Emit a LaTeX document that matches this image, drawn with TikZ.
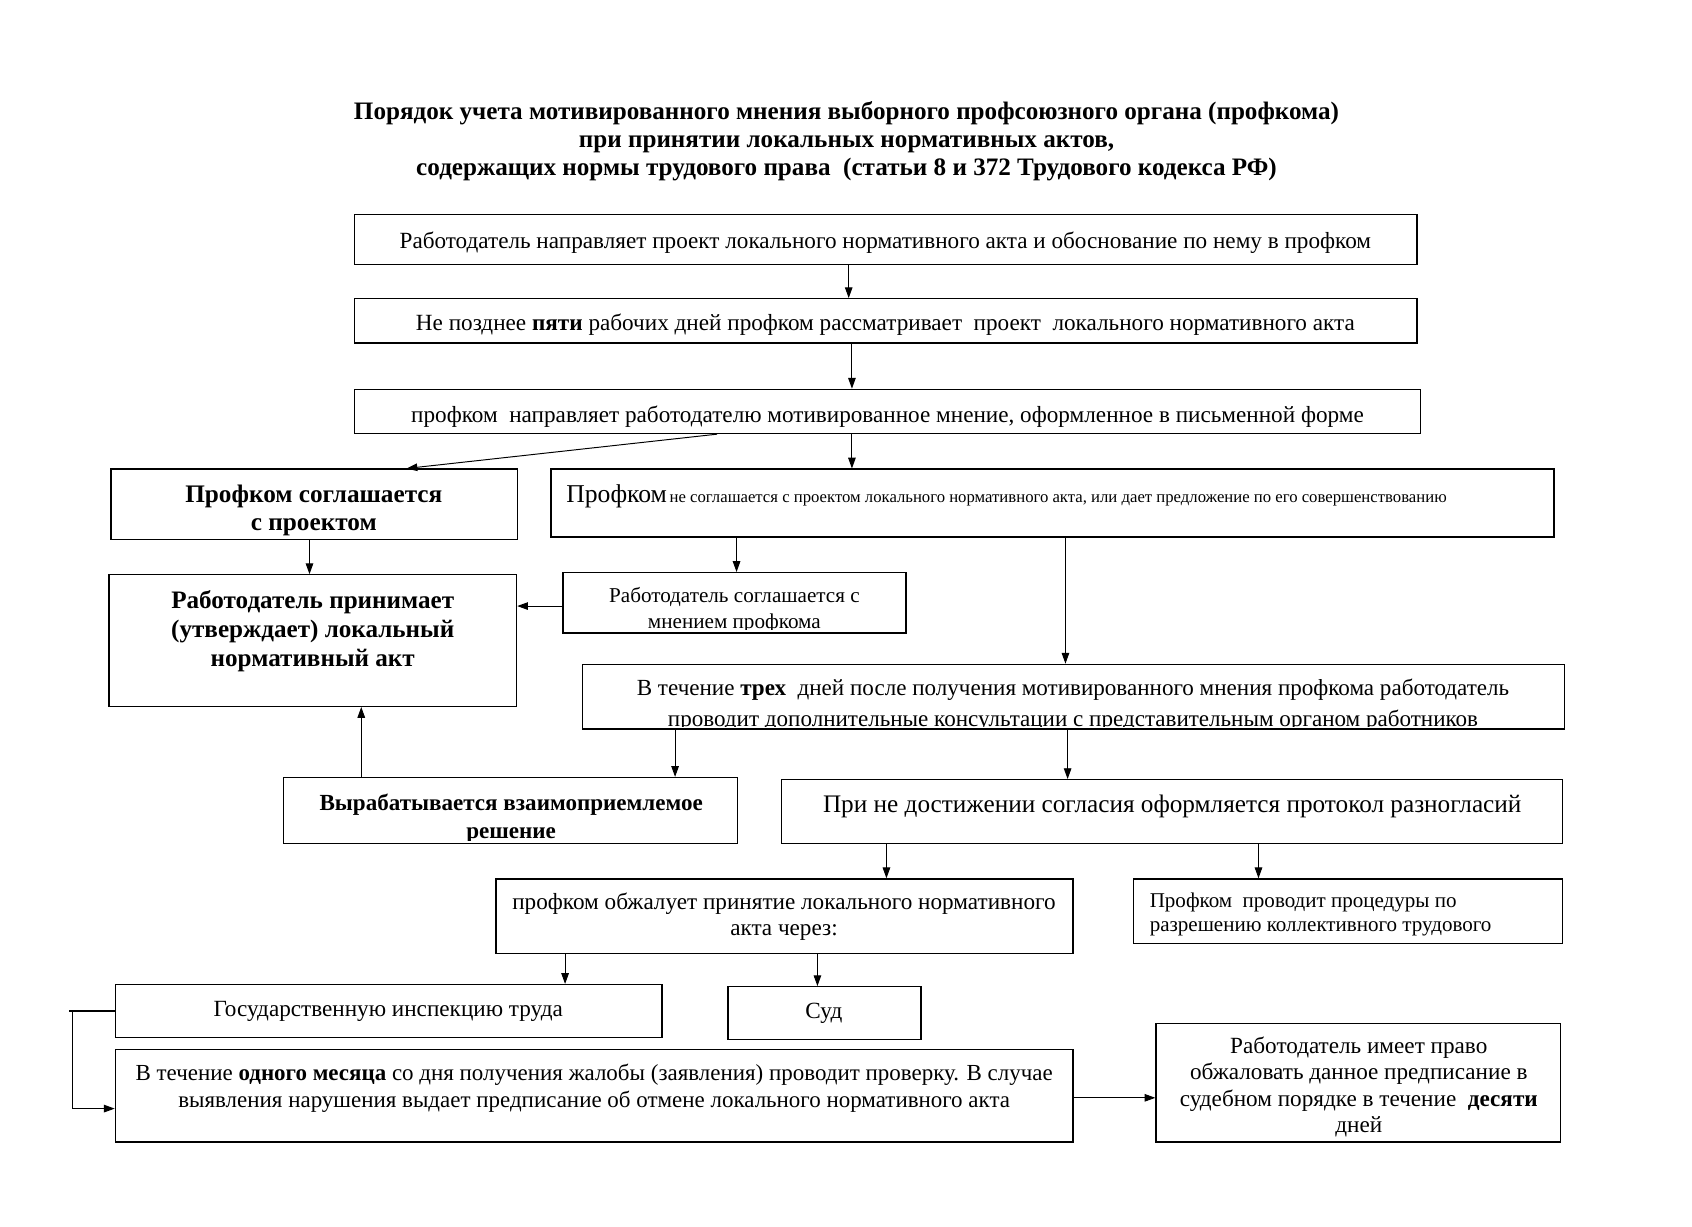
\documentclass[tikz,border=0pt]{standalone}
\usepackage{fontspec}
\setmainfont{Liberation Serif}
\usetikzlibrary{arrows.meta,fit}
\tikzset{
  box/.style={draw, line width=1.2pt, inner sep=0pt, rectangle},
  txt/.style={inner sep=0pt, align=center, yshift=-3pt},
  arr/.style={line width=0.9pt, -{Triangle[length=10pt,width=7pt]}},
  fA/.style={font=\fontsize{21.5}{27}\selectfont},
}
\begin{document}
\begin{tikzpicture}[x=1pt,y=-1pt]
\useasboundingbox (0,0) rectangle (1569,1137.8);
% title
\node[txt, font=\bfseries\fontsize{23.3}{26}\selectfont] (title) at (785,128)
 {Порядок учета мотивированного мнения выборного профсоюзного органа (профкома)\\
  при принятии локальных нормативных актов,\\
  содержащих нормы трудового права\ \ (статьи 8 и 372 Трудового кодекса РФ)};
% boxes
\node[box, fit={(329,199) (1314,245)}] (b1) {};
\node[box, fit={(329,277) (1314,318)}] (b2) {};
\node[box, fit={(329,361) (1317,402)}] (b3) {};
\node[box, fit={(103,435) (480,500)}] (b4) {};
\node[box, fit={(511,435) (1441,498)}] (b5) {};
\node[box, fit={(101,533) (479,655)}] (b6) {};
\node[box, fit={(522,531) (840,587)}] (b7) {};
\node[box, fit={(540,616) (1451,676)}] (b8) {};
\node[box, fit={(263,721) (684,782)}] (b9) {};
\node[box, fit={(725,723) (1449,782)}] (b10) {};
\node[box, fit={(460,815) (995,884)}] (b11) {};
\node[box, fit={(1051,815) (1449,875)}] (b12) {};
\node[box, fit={(107,913) (614,962)}] (b13) {};
\node[box, fit={(675,915) (854,964)}] (b14) {};
\node[box, fit={(107,973) (995,1059)}] (b15) {};
\node[box, fit={(1072,949) (1447,1059)}] (b16) {};
% texts
\node[txt, fA] (t1) at (821,222) {Работодатель направляет проект локального нормативного акта и обоснование по нему в профком};
\node[txt, fA] (t2) at (821,298) {Не позднее \textbf{пяти} рабочих дней профком рассматривает\ \ проект\ \ локального нормативного акта};
\node[txt, fA] (t3) at (823,383) {профком\ \ направляет работодателю мотивированное мнение, оформленное в письменной форме};
\node[txt, font=\bfseries\fontsize{23.4}{26}\selectfont] (t4) at (291,470) {Профком соглашается\\с проектом};
\node[inner sep=0pt, anchor=base west] (t5) at (525,466) {{\fontsize{23.8}{26}\selectfont Профком} {\fontsize{15.5}{18}\selectfont не соглашается с проектом локального нормативного акта, или дает предложение по его совершенствованию}};
\node[txt, font=\bfseries\fontsize{23.3}{27}\selectfont] (t6) at (290,582) {Работодатель принимает\\(утверждает) локальный\\нормативный акт};
\begin{scope}
  \clip (b7.north west) rectangle ([yshift=4pt]b7.south east);
  \node[txt, font=\fontsize{19.6}{24}\selectfont] (t7) at (681,563) {Работодатель соглашается с\\мнением профкома};
\end{scope}
\begin{scope}
  \clip (b8.north west) rectangle ([yshift=3pt]b8.south east);
  \node[txt, font=\fontsize{21.4}{28}\selectfont] (t8) at (995,651) {В течение \textbf{трех}\ \ дней после получения мотивированного мнения профкома работодатель\\проводит дополнительные консультации с представительным органом работников};
\end{scope}
\begin{scope}
  \clip (b9.north west) rectangle ([yshift=3pt]b9.south east);
  \node[txt, font=\bfseries\fontsize{21.4}{26}\selectfont] (t9) at (474,756) {Вырабатывается взаимоприемлемое\\решение};
\end{scope}
\node[txt, font=\fontsize{23.4}{26}\selectfont] (t10) at (1087,745) {При не достижении согласия оформляется протокол разногласий};
\node[txt, font=\fontsize{21.5}{23.5}\selectfont] (t11) at (727,847) {профком обжалует принятие локального нормативного\\акта через:};
\node[inner sep=0pt, align=left, anchor=west, font=\fontsize{19.5}{23}\selectfont] (t12) at (1066,848) {Профком\ \ проводит процедуры по\\разрешению коллективного трудового};
\node[txt, fA] (t13) at (360,935) {Государственную инспекцию труда};
\node[txt, fA] (t14) at (764,937) {Суд};
\node[txt, font=\fontsize{21.3}{25}\selectfont] (t15) at (551,1006) {В течение \textbf{одного месяца} со дня получения жалобы (заявления) проводит проверку. В случае\\выявления нарушения выдает предписание об отмене локального нормативного акта};
\node[txt, font=\fontsize{21.5}{24.5}\selectfont] (t16) at (1260,1005) {Работодатель имеет право\\обжаловать данное предписание в\\судебном порядке в течение\ \ \textbf{десяти}\\дней};
% connectors
\draw[arr] (b1.south -| 787,0) -- (b2.north -| 787,0);
\draw[arr] (b2.south -| 790,0) -- (b3.north -| 790,0);
\draw[arr] (b3.south -| 665,0) -- (b4.north -| 377,0);
\draw[arr] (b3.south -| 790,0) -- (b5.north -| 790,0);
\draw[arr] (b4.south -| 287,0) -- (b6.north -| 287,0);
\draw[arr] (b5.south -| 683,0) -- (b7.north -| 683,0);
\draw[arr] (b7.west |- 0,562) -- (b6.east |- 0,562);
\draw[arr] (b5.south -| 988,0) -- (b8.north -| 988,0);
\draw[arr] (b8.south -| 626,0) -- (b9.north -| 626,0);
\draw[arr] (b8.south -| 990,0) -- (b10.north -| 990,0);
\draw[arr] (b9.north -| 335,0) -- (b6.south -| 335,0);
\draw[arr] (b10.south -| 822,0) -- (b11.north -| 822,0);
\draw[arr] (b10.south -| 1167,0) -- (b12.north -| 1167,0);
\draw[arr] (b11.south -| 524,0) -- (b13.north -| 524,0);
\draw[arr] (b11.south -| 758,0) -- (b14.north -| 758,0);
\path (b13.west) ++(-42,0) coordinate (L1);
\path (b13.west) ++(-39,0) coordinate (L2);
\draw[line width=1.3pt] (b13.west) -- (L1);
\draw[arr] (L2) |- (b15.west |- 0,1028);
\draw[arr] (b15.east |- 0,1018) -- (b16.west |- 0,1018);
\end{tikzpicture}
\end{document}
